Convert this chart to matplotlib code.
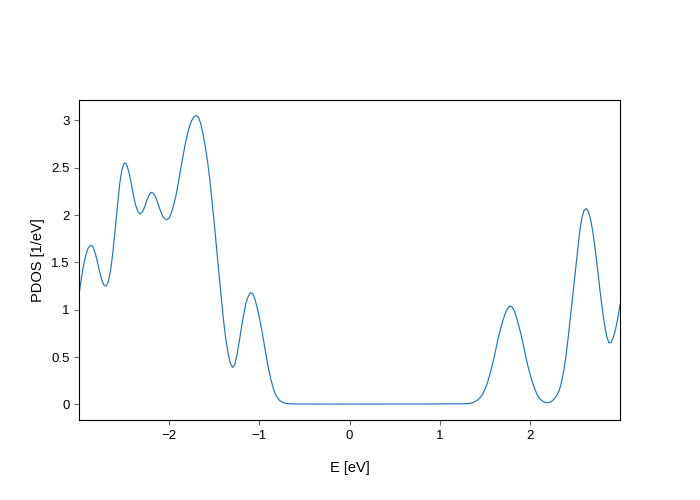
import numpy as np
import matplotlib
matplotlib.use("Agg")
from matplotlib import pyplot as plt

plt.rcParams['font.family'] = ['Liberation Sans', 'DejaVu Sans']

# energies (eV) and PDOS values
# valence side, every 0.025 eV
energy_vb = [
    -3.000, -2.975, -2.950, -2.925, -2.900, -2.875, -2.850, -2.825, -2.800, -2.775,
    -2.750, -2.725, -2.700, -2.675, -2.650, -2.625, -2.600, -2.575, -2.550, -2.525,
    -2.500, -2.475, -2.450, -2.425, -2.400, -2.375, -2.350, -2.325, -2.300, -2.275,
    -2.250, -2.225, -2.200, -2.175, -2.150, -2.125, -2.100, -2.075, -2.050, -2.025,
    -2.000, -1.975, -1.950, -1.925, -1.900, -1.875, -1.850, -1.825, -1.800, -1.775,
    -1.750, -1.725, -1.700, -1.675, -1.650, -1.625, -1.600, -1.575, -1.550, -1.525,
    -1.500, -1.475, -1.450, -1.425, -1.400, -1.375, -1.350, -1.325, -1.300, -1.275,
    -1.250, -1.225, -1.200, -1.175, -1.150, -1.125, -1.100, -1.075, -1.050, -1.025,
    -1.000, -0.975, -0.950, -0.925, -0.900, -0.875, -0.850, -0.825, -0.800, -0.775,
    -0.750, -0.725, -0.700, -0.650, -0.600,
]
pdos_vb = [
    1.17, 1.33, 1.47, 1.58, 1.65, 1.68, 1.67, 1.61, 1.52, 1.41,
    1.32, 1.26, 1.25, 1.30, 1.42, 1.61, 1.85, 2.10, 2.33, 2.48,
    2.55, 2.54, 2.46, 2.35, 2.22, 2.11, 2.04, 2.01, 2.03, 2.08,
    2.15, 2.21, 2.24, 2.23, 2.19, 2.12, 2.05, 1.99, 1.96, 1.95,
    1.97, 2.03, 2.11, 2.21, 2.34, 2.48, 2.61, 2.74, 2.85, 2.94,
    3.00, 3.04, 3.05, 3.03, 2.96, 2.85, 2.72, 2.56, 2.37, 2.14,
    1.90, 1.64, 1.39, 1.14, 0.90, 0.70, 0.55, 0.44, 0.39, 0.42,
    0.52, 0.66, 0.81, 0.95, 1.07, 1.14, 1.18, 1.17, 1.11, 1.02,
    0.91, 0.79, 0.65, 0.51, 0.38, 0.27, 0.18, 0.11, 0.07, 0.04,
    0.025, 0.015, 0.01, 0.006, 0.004,
]

# gap region
energy_gap = [-0.40, -0.20, 0.00, 0.20, 0.40, 0.60, 0.80, 1.00, 1.20]
pdos_gap = [0.003, 0.003, 0.003, 0.003, 0.003, 0.003, 0.004, 0.005, 0.006]

# conduction side, every 0.025 eV
energy_cb = [
    1.300, 1.325, 1.350, 1.375, 1.400, 1.425, 1.450, 1.475, 1.500, 1.525,
    1.550, 1.575, 1.600, 1.625, 1.650, 1.675, 1.700, 1.725, 1.750, 1.775,
    1.800, 1.825, 1.850, 1.875, 1.900, 1.925, 1.950, 1.975, 2.000, 2.025,
    2.050, 2.075, 2.100, 2.125, 2.150, 2.175, 2.200, 2.225, 2.250, 2.275,
    2.300, 2.325, 2.350, 2.375, 2.400, 2.425, 2.450, 2.475, 2.500, 2.525,
    2.550, 2.575, 2.600, 2.625, 2.650, 2.675, 2.700, 2.725, 2.750, 2.775,
    2.800, 2.825, 2.850, 2.875, 2.900, 2.925, 2.950, 2.975, 3.000,
]
pdos_cb = [
    0.008, 0.010, 0.014, 0.022, 0.035, 0.05, 0.075, 0.11, 0.16, 0.22,
    0.30, 0.39, 0.49, 0.60, 0.71, 0.80, 0.89, 0.96, 1.01, 1.04,
    1.03, 0.99, 0.92, 0.83, 0.74, 0.63, 0.52, 0.41, 0.32, 0.24,
    0.17, 0.11, 0.07, 0.045, 0.028, 0.018, 0.017, 0.024, 0.04, 0.065,
    0.10, 0.15, 0.24, 0.36, 0.52, 0.72, 0.94, 1.16, 1.39, 1.61,
    1.82, 1.97, 2.05, 2.07, 2.03, 1.94, 1.80, 1.62, 1.42, 1.21,
    1.02, 0.85, 0.72, 0.65, 0.655, 0.71, 0.80, 0.92, 1.06,
]

energy = energy_vb + energy_gap + energy_cb
pdos = pdos_vb + pdos_gap + pdos_cb

fig = plt.figure(figsize=(7, 5), dpi=100)
ax = fig.add_subplot(111)
fig.subplots_adjust(left=0.113, right=0.886, top=0.8, bottom=0.16)

ax.plot(energy, pdos, color='#1f77b4', lw=0.85)
ax.set_xlim(-3, 3)
ax.set_ylim(-0.165, 3.215)
ax.set_xticks([-2, -1, 0, 1, 2])
ax.set_yticks([0, 0.5, 1, 1.5, 2, 2.5, 3])
ax.set_yticklabels(['0', '0.5', '1', '1.5', '2', '2.5', '3'])

ax.tick_params(axis='both', labelsize=9.5, color='#666666')
ax.set_xlabel('E [eV]', fontsize=10.5, labelpad=14)
ax.set_ylabel('PDOS [1/eV]', fontsize=10.5)

fig.savefig('out.png')
